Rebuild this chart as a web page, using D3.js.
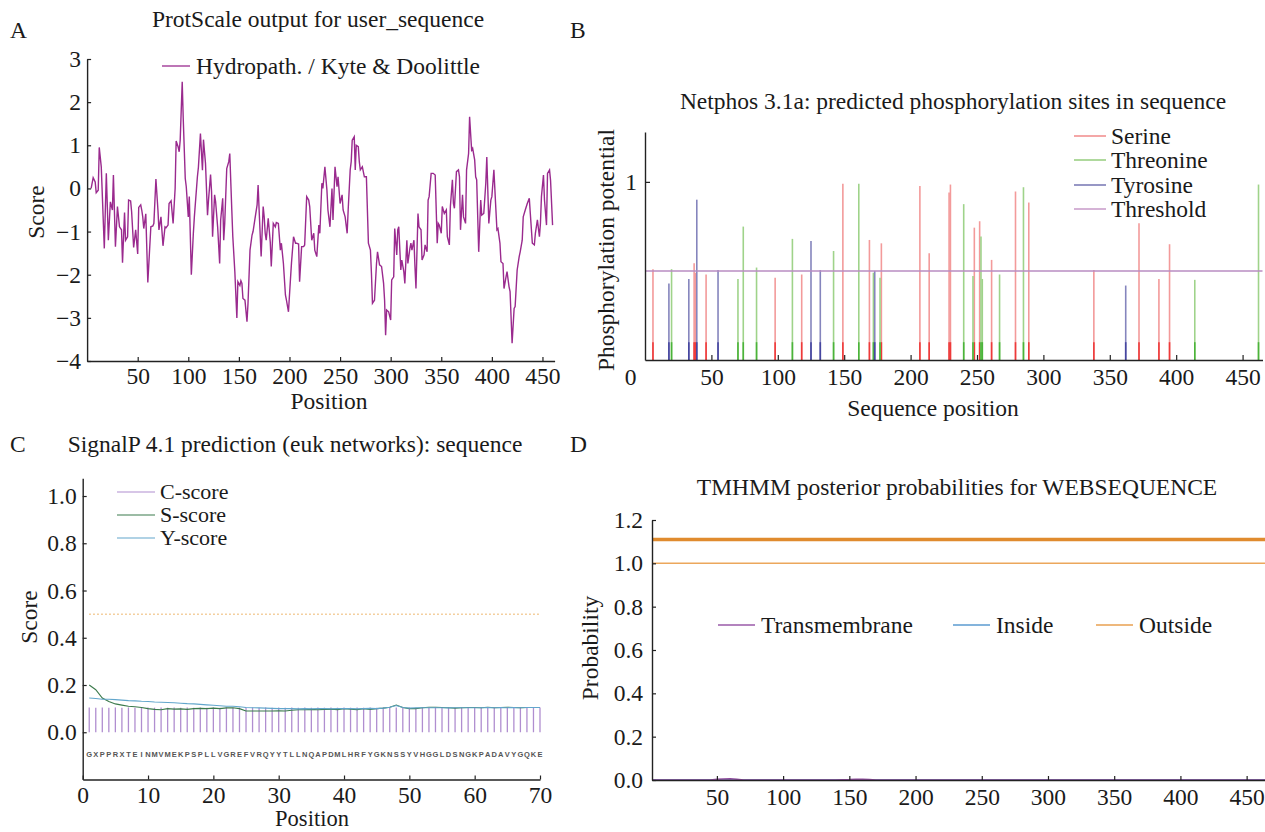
<!DOCTYPE html>
<html><head><meta charset="utf-8">
<script src="https://cdn.jsdelivr.net/npm/d3@7"></script>
<style>
body{margin:0;background:#fff;}
svg text{font-family:"Liberation Serif","Times New Roman",serif;fill:#1a1a1a;}
</style></head><body>
<svg id="c" width="1265" height="832"></svg>
<script>
// ---------- Panel A: hydropathy (Kyte & Doolittle) ----------
const hydroPos = [4,6,8,9,11,12,14,17,19,21,23,25,26,28,30,32,34,35,37,38,40,41,43,44,46,48,50,51,53,54,55,56,58,60,63,65,66,68,70,71,73,75,77,78,80,81,83,85,87,88,90,91,92,94,95,97,98,100,101,103,105,106,109,110,112,114,115,117,119,120,122,123,124,126,127,129,131,132,134,135,136,138,140,141,143,144,146,148,149,151,152,153,154,156,158,159,161,163,164,166,168,169,170,172,174,175,176,177,179,181,182,184,186,187,189,191,192,194,196,197,199,201,202,204,206,207,209,210,212,214,215,217,219,220,222,224,225,227,229,230,232,233,235,237,238,240,242,243,245,247,248,250,252,253,255,257,258,260,261,262,264,265,266,268,269,270,272,274,276,278,280,281,282,284,286,287,289,291,293,294,295,296,298,300,301,303,304,306,307,308,310,311,313,314,316,317,319,320,321,323,324,325,327,328,330,331,333,334,336,337,338,340,342,344,346,347,348,350,351,353,355,356,358,359,361,362,363,365,367,368,369,371,372,374,375,377,378,380,381,383,384,385,387,389,390,392,394,395,397,399,400,402,404,405,406,408,409,411,412,414,415,417,418,420,422,423,425,427,428,430,431,433,435,437,438,440,442,443,445,447,448,449,451,452,454,455,457,458,460];
const hydroScore = [0,0.25,0.15,-0.1,-0.04,0.95,0.5,-1.39,0.35,-1.2,-0.31,-0.5,0.31,-1.35,-0.42,-0.89,-0.96,-1.72,-0.56,-1.2,-1.12,-0.27,-0.29,-0.54,-1.37,-0.96,-1.52,-0.44,-0.38,-0.5,-0.66,-0.93,-0.59,-2.18,-0.89,-0.87,-0.81,0.22,-0.5,-0.96,-0.66,-1.33,-0.89,-0.91,-0.85,-0.35,-0.29,-0.81,0,1.1,0.96,0.85,1.12,2.47,1.62,0.23,0.04,-0.66,-0.19,-2.0,-1.04,-0.66,0.27,0.49,1.27,0.42,1.13,0.58,-0.62,-0.27,0.32,-0.08,-1.12,-0.15,-0.31,-0.89,-1.74,-0.73,-0.23,-1.2,-0.81,0.46,0.62,0.81,-0.5,-1.12,-1.93,-3.0,-2.16,-2.25,-2.14,-2.2,-2.55,-2.59,-3.09,-2.67,-1.43,-1.08,-1.0,-0.69,-0.38,0.08,-0.5,-1.58,-0.42,-0.65,-1.04,-1.2,-0.69,-1.24,-1.81,-0.81,-0.89,-0.79,-0.81,-1.43,-1.27,-1.74,-2.47,-2.59,-2.86,-2.09,-1.72,-1.12,-1.27,-1.27,-1.29,-2.16,-1.35,-1.35,-1.31,-0.19,-0.27,-0.42,-1.2,-1.04,-1.43,-1.58,-0.85,-1.04,0.12,0,0.5,-0.04,-0.5,-0.89,0,-0.73,0.5,0.04,0.27,-0.35,-0.15,-0.5,-0.66,-1.04,-0.5,0.43,0.62,1.12,1.2,0.43,1.0,0.97,0.62,0.43,0.5,0.27,0.27,-1.27,-1.43,-1.97,-2.66,-2.59,-1.74,-1.47,-1.77,-1.81,-2.2,-2.59,-3.4,-2.82,-2.86,-3.05,-2.12,-2.05,-0.93,-1.54,-0.96,-0.89,-1.89,-1.66,-1.93,-2.2,-1.2,-1.74,-1.39,-1.27,-1.43,-1.2,-1.81,-2.32,-0.58,-0.89,-0.96,-1.66,-1.54,-1.31,-1.47,-0.27,-0.19,0.35,0.35,0.31,-1.27,-0.81,-0.85,-1.04,-0.42,-0.58,-0.5,-1.12,-1.31,-0.42,0.2,-0.35,-0.46,0.39,0.43,0.27,-0.96,-0.15,-0.66,-0.81,0.43,0.81,1.66,0.89,0.93,0.66,0.27,0.2,-1.47,-0.27,-0.62,-0.58,0.12,0.73,-0.81,-0.27,-0.19,0.43,-0.5,-0.96,-0.93,-1.27,-1.7,-1.74,-2.32,-2.05,-1.93,-2.28,-2.39,-3.59,-2.78,-2.74,-1.89,-1.58,-1.47,-1.2,-0.66,-0.5,-0.35,-0.23,-0.58,-1.27,-1.31,-1.04,-0.73,-1.12,-0.81,-0.19,0.31,-0.27,-0.85,0.35,0.43,0.19,-0.85];
const hydroXTicks = [50,100,150,200,250,300,350,400,450];
const hydroYTicks = [-4,-3,-2,-1,0,1,2,3];

// ---------- Panel B: NetPhos ----------
const serinePos = [6,37,38,46,98,118,149,169,178,207,214,229,230,248,252,261,279,289,338,372,387,395];
const serineVal = [0.51,0.543,0.49,0.48,0.462,0.48,0.99,0.674,0.655,0.977,0.6,0.94,0.985,0.743,0.779,0.562,0.946,0.884,0.505,0.768,0.455,0.65];
const threoninePos = [20,70,74,84,111,142,161,172,177,240,247,253,254,267,285,414,462];
const threonineVal = [0.51,0.455,0.749,0.519,0.68,0.612,0.99,0.49,0.462,0.875,0.472,0.693,0.455,0.48,0.97,0.45,0.985];
const tyrosinePos = [18,33,39,55,125,132,173,362];
const tyrosineVal = [0.43,0.455,0.90,0.505,0.668,0.505,0.50,0.418];
const phosThreshold = 0.5;
const phosXTicks = [0,50,100,150,200,250,300,350,400,450];
const phosYTicks = [1];
const phosLegend = ["Serine","Threonine","Tyrosine","Threshold"];

// ---------- Panel C: SignalP ----------
const seqLetters = "GXPPRXTEINMVMEKPSPLLVGREFVRQYYTLLNQAPDMLHRFYGKNSSYVHGGLDSNGKPADAVYGQKE".split("");
const cScore = [0.105,0.104,0.105,0.104,0.105,0.104,0.105,0.104,0.104,0.105,0.104,0.105,0.104,0.105,0.104,0.105,0.104,0.105,0.104,0.105,0.104,0.105,0.104,0.105,0.104,0.105,0.104,0.105,0.104,0.105,0.104,0.105,0.104,0.105,0.104,0.105,0.104,0.105,0.104,0.105,0.104,0.105,0.104,0.105,0.104,0.105,0.104,0.105,0.104,0.105,0.104,0.105,0.104,0.105,0.104,0.105,0.104,0.105,0.104,0.105,0.104,0.105,0.104,0.105,0.104,0.105,0.104,0.105,0.104,0.105];
const sScore = [0.20,0.18,0.145,0.13,0.12,0.115,0.11,0.108,0.105,0.10,0.097,0.095,0.10,0.098,0.099,0.097,0.10,0.101,0.10,0.102,0.10,0.103,0.104,0.10,0.09,0.09,0.09,0.09,0.09,0.091,0.09,0.093,0.095,0.095,0.097,0.095,0.097,0.098,0.096,0.10,0.098,0.096,0.10,0.097,0.10,0.102,0.106,0.115,0.105,0.10,0.10,0.104,0.106,0.106,0.105,0.104,0.102,0.104,0.105,0.105,0.104,0.106,0.104,0.105,0.106,0.105,0.104,0.105,0.105,0.105];
const yScore = [0.145,0.143,0.14,0.14,0.138,0.136,0.134,0.133,0.131,0.13,0.128,0.127,0.126,0.125,0.123,0.121,0.12,0.118,0.116,0.114,0.112,0.11,0.11,0.108,0.105,0.104,0.103,0.102,0.101,0.10,0.10,0.10,0.099,0.10,0.099,0.10,0.10,0.099,0.10,0.10,0.10,0.099,0.10,0.101,0.10,0.102,0.106,0.113,0.105,0.102,0.103,0.104,0.104,0.104,0.104,0.103,0.104,0.104,0.104,0.104,0.104,0.105,0.104,0.105,0.104,0.105,0.104,0.105,0.105,0.105];
const signalThreshold = 0.5;
const signalXTicks = [0,10,20,30,40,50,60,70];
const signalYTicks = [0,0.2,0.4,0.6,0.8,1.0];
const signalLegend = ["C-score","S-score","Y-score"];

// ---------- Panel D: TMHMM ----------
const tmPos = [1,45,50,55,60,65,70,140,150,155,160,165,170,465];
const tmProb = [0,0,0.003,0.005,0.006,0.004,0,0,0.002,0.004,0.003,0.002,0,0];
const insidePos = [1,465];
const insideProb = [0,0];
const outsidePos = [1,465];
const outsideProb = [1,1];
const outsideTopology = [1,465];
const tmXTicks = [50,100,150,200,250,300,350,400,450];
const tmYTicks = [0,0.2,0.4,0.6,0.8,1.0,1.2];
const tmLegend = ["Transmembrane","Inside","Outside"];

const svg = d3.select("#c");
const FS = "23.5px";
function styleAxis(g){
  g.attr("font-family",null).attr("font-size",null);
  g.select(".domain").attr("stroke","#222").attr("stroke-width",1.4);
  g.selectAll(".tick line").attr("stroke","#222").attr("stroke-width",1.2);
  g.selectAll(".tick text").style("font-size",FS).attr("fill","#1a1a1a");
}
function txt(x,y,s,opts={}){
  const t = svg.append("text").attr("x",x).attr("y",y).text(s)
    .style("font-size",opts.size||FS).attr("text-anchor",opts.anchor||"start");
  if(opts.rotate) t.attr("transform",`rotate(-90,${x},${y})`);
  return t;
}

// ===== Panel A =====
{
  const x = d3.scaleLinear().domain([0,462]).range([87.1,554.6]);
  const y = d3.scaleLinear().domain([-4,3]).range([361,59]);
  const pts = hydroPos.map((p,i)=>[p,hydroScore[i]]);
  svg.append("path").datum(pts)
    .attr("d", d3.line().x(d=>x(d[0])).y(d=>y(d[1])))
    .attr("fill","none").attr("stroke","#9a2a8e").attr("stroke-width",1.4);
  svg.append("g").attr("transform","translate(0,361)")
    .call(d3.axisBottom(x).tickValues(hydroXTicks).tickSizeInner(-4).tickSizeOuter(0).tickPadding(6)).call(styleAxis);
  svg.append("g").attr("transform","translate(87.1,0)")
    .call(d3.axisLeft(y).tickValues(hydroYTicks).tickFormat(d3.format("d")).tickSizeInner(-4).tickSizeOuter(0).tickPadding(6)).call(styleAxis);
  txt(318,27,"ProtScale output for user_sequence",{anchor:"middle"});
  txt(329,409,"Position",{anchor:"middle"});
  txt(44,212,"Score",{anchor:"middle",rotate:true});
  svg.append("line").attr("x1",162).attr("x2",190).attr("y1",66).attr("y2",66).attr("stroke","#9a2a8e").attr("stroke-width",1.3);
  txt(196,74,"Hydropath. / Kyte & Doolittle");
  txt(10,38,"A");
}

// ===== Panel B =====
{
  const x = d3.scaleLinear().domain([0,465]).range([645,1262.5]);
  const y = d3.scaleLinear().domain([0,1.28]).range([360,132]);
  const groups = [
    {pos:serinePos,val:serineVal,light:"#f39a9a",dark:"#ee3a3a"},
    {pos:threoninePos,val:threonineVal,light:"#9fd38a",dark:"#4bb43a"},
    {pos:tyrosinePos,val:tyrosineVal,light:"#8585bd",dark:"#4646a0"}
  ];
  groups.forEach(gr=>{
    const d = gr.pos.map((p,i)=>({p,v:gr.val[i]}));
    svg.append("g").selectAll("line").data(d).join("line")
      .attr("x1",e=>x(e.p)).attr("x2",e=>x(e.p))
      .attr("y1",y(0)).attr("y2",e=>y(e.v))
      .attr("stroke",gr.light).attr("stroke-width",1.6);
    svg.append("g").selectAll("line").data(d).join("line")
      .attr("x1",e=>x(e.p)).attr("x2",e=>x(e.p))
      .attr("y1",y(0)).attr("y2",e=>y(Math.min(e.v,0.1)))
      .attr("stroke",gr.dark).attr("stroke-width",1.6);
  });
  svg.append("line").attr("x1",x(0)).attr("x2",x(465)).attr("y1",y(phosThreshold)).attr("y2",y(phosThreshold))
    .attr("stroke","#b98cc2").attr("stroke-width",1.5);
  const gx = svg.append("g").attr("transform","translate(0,360)")
    .call(d3.axisBottom(x).tickValues(phosXTicks).tickSizeInner(-5).tickSizeOuter(0).tickPadding(8)).call(styleAxis);
  gx.selectAll(".tick").filter(d=>d===0).select("text").attr("dx",-15);
  gx.selectAll(".tick").filter(d=>d===0).select("line").remove();
  svg.append("g").attr("transform","translate(645,0)")
    .call(d3.axisLeft(y).tickValues(phosYTicks).tickFormat(d3.format("d")).tickSizeInner(-5).tickSizeOuter(0).tickPadding(8)).call(styleAxis);
  txt(953,109,"Netphos 3.1a: predicted phosphorylation sites in sequence",{anchor:"middle"});
  txt(933,416,"Sequence position",{anchor:"middle"});
  txt(614,250,"Phosphorylation potential",{anchor:"middle",rotate:true});
  const lc = ["#f08a8a","#94cc7c","#7474b2","#c79ac9"];
  phosLegend.forEach((s,i)=>{
    const yy = [136,160,185,209][i];
    svg.append("line").attr("x1",1074).attr("x2",1106).attr("y1",yy).attr("y2",yy).attr("stroke",lc[i]).attr("stroke-width",1.5);
    txt(1111,yy+8,s);
  });
  txt(570,38,"B");
}

// ===== Panel C =====
{
  const x = d3.scaleLinear().domain([0,70]).range([82.7,540]);
  const y = d3.scaleLinear().domain([-0.2,1.075]).range([779.5,478.3]);
  const idx = d3.range(1,71);
  svg.append("line").attr("x1",x(1)).attr("x2",x(70)).attr("y1",y(signalThreshold)).attr("y2",y(signalThreshold))
    .attr("stroke","#f0c080").attr("stroke-width",1.5).attr("stroke-dasharray","1.5,2.5");
  svg.append("g").selectAll("line").data(idx).join("line")
    .attr("x1",i=>x(i)).attr("x2",i=>x(i)).attr("y1",y(0)).attr("y2",i=>y(cScore[i-1]))
    .attr("stroke","#b08ed0").attr("stroke-width",1.3);
  svg.append("path").datum(idx).attr("d",d3.line().x(i=>x(i)).y(i=>y(sScore[i-1])))
    .attr("fill","none").attr("stroke","#3b7a4c").attr("stroke-width",1.1);
  svg.append("path").datum(idx).attr("d",d3.line().x(i=>x(i)).y(i=>y(yScore[i-1])))
    .attr("fill","none").attr("stroke","#62a6cc").attr("stroke-width",1.1);
  svg.append("g").selectAll("text").data(seqLetters).join("text")
    .attr("x",(d,i)=>x(i+1)).attr("y",y(-0.09)+3)
    .attr("text-anchor","middle").text(d=>d)
    .style("font-size","7.5px").style("font-family","'Liberation Sans',Arial,sans-serif").style("font-weight","bold").style("fill","#555");
  svg.append("g").attr("transform","translate(0,779.5)")
    .call(d3.axisBottom(x).tickValues(signalXTicks).tickSizeInner(-4).tickSizeOuter(0).tickPadding(7)).call(styleAxis);
  svg.append("g").attr("transform","translate(82.7,0)")
    .call(d3.axisLeft(y).tickValues(signalYTicks).tickFormat(d3.format(".1f")).tickSizeInner(-4).tickSizeOuter(0).tickPadding(6)).call(styleAxis);
  txt(295,452,"SignalP 4.1 prediction (euk networks): sequence",{anchor:"middle"});
  txt(312,826,"Position",{anchor:"middle",size:"22.5px"});
  txt(37,617,"Score",{anchor:"middle",rotate:true});
  const lc = ["#b08ed0","#3b7a4c","#62a6cc"];
  signalLegend.forEach((s,i)=>{
    const yy = [492,515,538][i];
    svg.append("line").attr("x1",117).attr("x2",155).attr("y1",yy).attr("y2",yy).attr("stroke",lc[i]).attr("stroke-width",1.2);
    txt(160,yy+7,s,{size:"22px"});
  });
  txt(10,452,"C");
}

// ===== Panel D =====
{
  const x = d3.scaleLinear().domain([1,465]).range([652,1266.5]);
  const y = d3.scaleLinear().domain([0,1.2]).range([780,520]);
  svg.append("line").attr("x1",x(outsideTopology[0])).attr("x2",x(outsideTopology[1])).attr("y1",y(1.11)).attr("y2",y(1.11))
    .attr("stroke","#e08b2e").attr("stroke-width",3.5);
  const ln = (ps,vs,col,w)=>svg.append("path").datum(ps.map((p,i)=>[p,vs[i]]))
    .attr("d",d3.line().x(d=>x(d[0])).y(d=>y(d[1]))).attr("fill","none").attr("stroke",col).attr("stroke-width",w);
  ln(outsidePos,outsideProb,"#eca75c",1.5);
  ln(insidePos,insideProb,"#5b9bd0",1.5);
  ln(tmPos,tmProb,"#8d4a9c",1.5);
  svg.append("g").attr("transform","translate(0,780)")
    .call(d3.axisBottom(x).tickValues(tmXTicks).tickSizeInner(-4).tickSizeOuter(0).tickPadding(8)).call(styleAxis);
  svg.append("g").attr("transform","translate(652,0)")
    .call(d3.axisLeft(y).tickValues(tmYTicks).tickFormat(d3.format(".1f")).tickSizeInner(-4).tickSizeOuter(0).tickPadding(9)).call(styleAxis);
  txt(957,495,"TMHMM posterior probabilities for WEBSEQUENCE",{anchor:"middle"});
  txt(598,648,"Probability",{anchor:"middle",rotate:true});
  const lc = ["#9a5aa8","#5b9bd0","#e8a050"];
  const lx = [718,953,1096];
  tmLegend.forEach((s,i)=>{
    svg.append("line").attr("x1",lx[i]).attr("x2",lx[i]+37).attr("y1",625).attr("y2",625).attr("stroke",lc[i]).attr("stroke-width",1.5);
    txt(lx[i]+43,633,s);
  });
  txt(570,452,"D");
}
</script>
</body></html>
